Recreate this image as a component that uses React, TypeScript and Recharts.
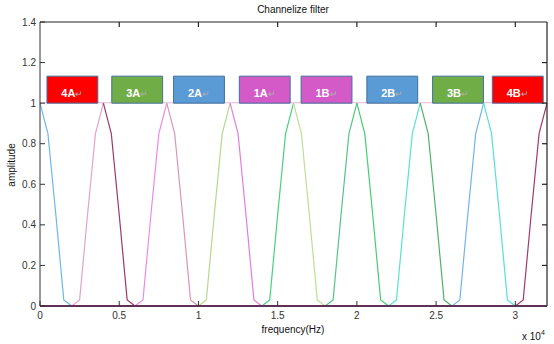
// Channelize filter: a bank of 9 band filters on a 0–32 kHz axis, with the
// channel boxes (4A … 4B) sitting along the top at amplitude 1.

import { Line, LineChart, ReferenceArea, XAxis, YAxis } from "recharts";

const FONT = '"Liberation Sans", Arial, sans-serif';
const INK = "#333";

const CENTERS = [0, 4000, 8000, 12000, 16000, 20000, 24000, 28000, 32000];
const PROFILE = [1, 0.85, 0.45, 0.03, 0];
const STEP = 500;
const FREQS = Array.from({ length: 32000 / STEP + 1 }, (_, i) => i * STEP);

// Each flank is its own trace in the source figure, each with its own colour.
const LEFT_COLORS = [null, "#e2a4c6", "#e98ce6", "#b6d98f", "#45d27f", "#55c486", "#58e3c8", "#72b4ea", "#a13a6c"];
const RIGHT_COLORS = ["#6db8e8", "#9b3a66", "#d996b6", "#e27de0", "#c2dc96", "#42cf74", "#52b06c", "#55e0d8", null];

const X_MAX = 32000;
const Y_MAX = 1.4;
const X_TICKS = [0, 5000, 10000, 15000, 20000, 25000, 30000];
const Y_TICKS = [0, 0.2, 0.4, 0.6, 0.8, 1, 1.2, 1.4];

// Channel boxes: label, frequency span, fill.
const BOX_LABELS = ["4A", "3A", "2A", "1A", "1B", "2B", "3B", "4B"];
const BOX_FROM = [440, 4530, 8430, 12580, 16480, 20630, 24780, 28550];
const BOX_TO = [3650, 7740, 11640, 15790, 19690, 23840, 27990, 31760];
const BOX_FILLS = ["#ff0000", "#70ad47", "#5b9bd5", "#d45bc7", "#d45bc7", "#5b9bd5", "#70ad47", "#ff0000"];

// plot box inside the 554x344 chart
const M = { top: 22, right: 7, bottom: 18, left: 10 };
const Y_AXIS_W = 30;
const X_AXIS_H = 20;
const PLOT = {
  left: M.left + Y_AXIS_W,
  top: M.top,
  right: 554 - M.right,
  bottom: 344 - M.bottom - X_AXIS_H,
};

const rows = FREQS.map((f) => {
  const row: Record<string, number | null> = { f, floor: 0 };
  CENTERS.forEach((c, k) => {
    const d = (f - c) / STEP;
    row[`l${k}`] = d >= -4 && d <= 0 ? PROFILE[-d] : null;
    row[`r${k}`] = d >= 0 && d <= 4 ? PROFILE[d] : null;
  });
  return row;
});

const tickText = { fontFamily: FONT, fontSize: 10, fill: INK };

function BottomTick({ x, y, payload }: any) {
  return (
    <g>
      <line x1={x} x2={x} y1={y} y2={y - 5} stroke={INK} />
      <text x={x} y={y + 13} textAnchor="middle" {...tickText}>
        {payload.value / 10000}
      </text>
    </g>
  );
}
function LeftTick({ x, y, payload }: any) {
  return (
    <g>
      <line x1={x} x2={x + 5} y1={y} y2={y} stroke={INK} />
      <text x={x - 4} y={y} dy="0.35em" textAnchor="end" {...tickText}>
        {Number(payload.value.toFixed(1))}
      </text>
    </g>
  );
}

function BoxLabel({ viewBox, text }: any) {
  const { x, y, width, height } = viewBox;
  return (
    <text x={x + width / 2} y={y + height - 6} textAnchor="middle" fontFamily={FONT} fontSize={11} fontWeight="bold">
      <tspan fill="#fff">{text}</tspan>
      <tspan fill="#b0b0b0" fontWeight="normal" fontSize={9}>↵</tspan>
    </text>
  );
}

// Top and right edges of the axes box with their inward ticks (MATLAB style).
function Frame() {
  const w = PLOT.right - PLOT.left;
  const h = PLOT.bottom - PLOT.top;
  const sx = (v: number) => PLOT.left + (v / X_MAX) * w;
  const sy = (v: number) => PLOT.bottom - (v / Y_MAX) * h;
  return (
    <g stroke="#222" strokeWidth={1.2}>
      <line x1={PLOT.left} x2={PLOT.right} y1={PLOT.top} y2={PLOT.top} />
      <line x1={PLOT.right} x2={PLOT.right} y1={PLOT.top} y2={PLOT.bottom} />
      {X_TICKS.slice(1).map((t) => (
        <line key={`tx${t}`} x1={sx(t)} x2={sx(t)} y1={PLOT.top} y2={PLOT.top + 5} />
      ))}
      {Y_TICKS.slice(1, -1).map((t) => (
        <line key={`ty${t}`} x1={PLOT.right} x2={PLOT.right - 5} y1={sy(t)} y2={sy(t)} />
      ))}
    </g>
  );
}

export default function App() {
  return (
    <div style={{ position: "absolute", left: 0, top: 0, width: 554, height: 344, background: "#fff" }}>
      <LineChart width={554} height={344} data={rows} margin={M}>
        <XAxis
          dataKey="f"
          type="number"
          domain={[0, X_MAX]}
          ticks={X_TICKS}
          interval={0}
          height={X_AXIS_H}
          tickSize={0}
          tickMargin={0}
          tickLine={false}
          stroke={INK}
          tick={<BottomTick />}
        />
        <YAxis
          type="number"
          domain={[0, Y_MAX]}
          ticks={Y_TICKS}
          interval={0}
          width={Y_AXIS_W}
          tickSize={0}
          tickMargin={0}
          tickLine={false}
          stroke={INK}
          tick={<LeftTick />}
        />
        {/* faint trace at amplitude 1, seen in the gaps between the boxes */}
        <ReferenceArea x1={0} x2={X_MAX} y1={1} y2={1.004} fill="#e6b4d8" fillOpacity={1} ifOverflow="visible" />
        {CENTERS.map((_, k) =>
          LEFT_COLORS[k] ? (
            <Line
              key={`l${k}`}
              dataKey={`l${k}`}
              stroke={LEFT_COLORS[k] as string}
              strokeWidth={1.2}
              dot={false}
              type="linear"
              isAnimationActive={false}
            />
          ) : null
        )}
        {CENTERS.map((_, k) =>
          RIGHT_COLORS[k] ? (
            <Line
              key={`r${k}`}
              dataKey={`r${k}`}
              stroke={RIGHT_COLORS[k] as string}
              strokeWidth={1.2}
              dot={false}
              type="linear"
              isAnimationActive={false}
            />
          ) : null
        )}
        <Line dataKey="floor" stroke="#8e2f78" strokeWidth={2} dot={false} isAnimationActive={false} />
        {BOX_LABELS.map((t, i) => (
          <ReferenceArea
            key={t}
            x1={BOX_FROM[i]}
            x2={BOX_TO[i]}
            y1={1}
            y2={1.133}
            fill={BOX_FILLS[i]}
            fillOpacity={1}
            stroke="#41719c"
            strokeWidth={1}
            ifOverflow="visible"
            label={<BoxLabel text={t} />}
          />
        ))}
      </LineChart>
      <svg width={554} height={344} style={{ position: "absolute", left: 0, top: 0, pointerEvents: "none" }}>
        <Frame />
        <text x={293} y={13} textAnchor="middle" fontFamily={FONT} fontSize={10} fill="#111">
          Channelize filter
        </text>
        <text x={293} y={333} textAnchor="middle" fontFamily={FONT} fontSize={10} fill="#111">
          frequency(Hz)
        </text>
        <text x={15} y={165} textAnchor="middle" fontFamily={FONT} fontSize={10} fill="#111" transform="rotate(-90 15 165)">
          amplitude
        </text>
        <text x={522} y={340} fontFamily={FONT} fontSize={10} fill="#111">
          x 10
          <tspan fontSize={7} dy={-5}>4</tspan>
        </text>
      </svg>
    </div>
  );
}
